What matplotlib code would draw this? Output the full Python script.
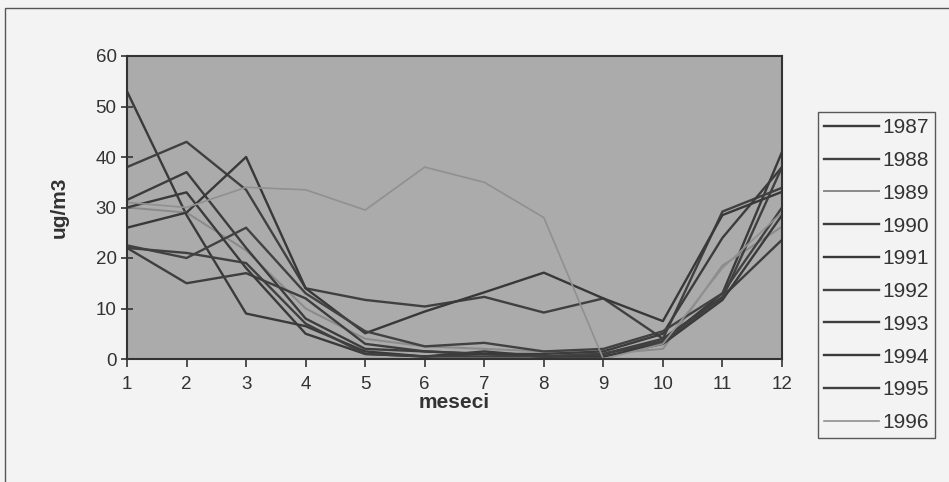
import matplotlib.pyplot as plt
from matplotlib.patches import Rectangle

plt.rcParams['font.family'] = ['Liberation Sans', 'DejaVu Sans']

months = list(range(1, 13))
years = ['1987', '1988', '1989', '1990', '1991', '1992', '1993', '1994', '1995', '1996']

y1987 = [53, 28.5, 9, 6.5, 1.5, 0.5, 1.5, 0.5, 0.5, 3.5, 13, 41]
y1988 = [38, 43, 33.5, 14, 11.7, 10.4, 12.3, 9.2, 12, 4, 29.2, 33.9]
y1989 = [30, 29, 21.5, 10, 4, 2.5, 2, 1.5, 1, 2, 18.5, 26.2]
y1990 = [31.5, 37, 22, 8, 2, 1.5, 1, 1, 1.5, 5, 24, 38]
y1991 = [26, 29, 40, 14, 5.1, 9.4, 13.2, 17.1, 12, 7.5, 28.5, 33.1]
y1992 = [22.5, 20, 26, 13, 5.5, 2.5, 3.2, 1.5, 2, 5.5, 13, 30]
y1993 = [22, 15, 17, 12, 3, 1.5, 1, 0.5, 1, 4, 12.3, 23.6]
y1994 = [30, 33, 18, 5, 1, 0.5, 1, 0.5, 0.5, 3, 11.7, 28.5]
y1995 = [22, 21, 19, 7, 1, 0.5, 0.5, 0.5, 1, 3.5, 12, 38]
y1996 = [31, 30, 34, 33.5, 29.5, 38, 35, 28, 0, 3, 18, 29]

series = [y1987, y1988, y1989, y1990, y1991, y1992, y1993, y1994, y1995, y1996]
colors = ['#3a3a3a', '#404040', '#8a8a8a', '#3c3c3c', '#383838',
          '#424242', '#3e3e3e', '#3a3a3a', '#404040', '#909090']
widths = [1.7, 1.7, 1.4, 1.7, 1.7, 1.7, 1.7, 1.7, 1.7, 1.2]

fig = plt.figure(figsize=(9.49, 4.82), dpi=100, facecolor='#f3f3f3')
ax = fig.add_axes([127 / 949, 1 - 359 / 482, (782 - 127) / 949, (359 - 56) / 482])
ax.set_facecolor('#ababab')

for vals, yr, c, lw in zip(series, years, colors, widths):
    ax.plot(months, vals, color=c, lw=lw, label=yr)

ax.set_xlim(1, 12)
ax.set_ylim(0, 60)
ax.set_xticks(months)
ax.set_yticks(range(0, 61, 10))
ax.tick_params(axis='both', labelsize=13.5, colors='#333333', width=1.2)
ax.tick_params(axis='y', direction='inout', length=9, pad=3)
ax.tick_params(axis='x', direction='out', length=6, pad=6)
for s in ax.spines.values():
    s.set_color('#333333')
    s.set_linewidth(1.5)

ax.set_xlabel('meseci', fontsize=15, fontweight='bold', color='#333333', labelpad=0)
ax.set_ylabel('ug/m3', fontsize=15, fontweight='bold', color='#333333', labelpad=19)

leg = fig.legend(loc='upper left', bbox_to_anchor=(818 / 949, 1 - 112 / 482),
                 fontsize=15, frameon=True, fancybox=False, handlelength=2.65,
                 handletextpad=0.15, labelspacing=0.66, borderpad=0.3,
                 borderaxespad=0)
leg.get_frame().set_edgecolor('#333333')
leg.get_frame().set_facecolor('#f3f3f3')
leg.get_frame().set_linewidth(1.0)
for t in leg.get_texts():
    t.set_color('#333333')

fig.add_artist(Rectangle((5 / 949, -0.1), 1.2, 1.1 - 8 / 482, transform=fig.transFigure,
                         fill=False, edgecolor='#555555', lw=1.0, clip_on=False))

fig.savefig('out.png', dpi=100, facecolor=fig.get_facecolor())
